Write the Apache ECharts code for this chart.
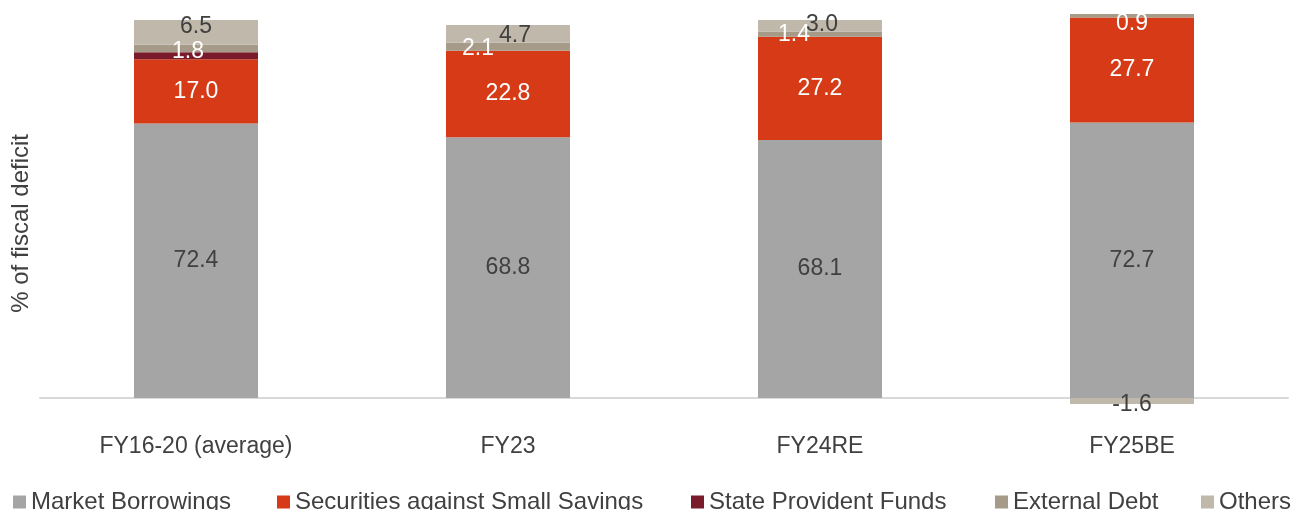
<!DOCTYPE html>
<html>
<head>
<meta charset="utf-8">
<script src="https://cdn.jsdelivr.net/npm/echarts@6/dist/echarts.min.js"></script>
<style>
  html, body { margin: 0; padding: 0; background: #fff; }
  #chart { width: 1291px; height: 510px; }
</style>
</head>
<body>
<div id="chart"></div>
<script>
// data
const categories = ['FY16-20 (average)', 'FY23', 'FY24RE', 'FY25BE']
const marketBorrowings = [72.4, 68.8, 68.1, 72.7]
const smallSavings = [17.0, 22.8, 27.2, 27.7]
const stateProvident = [1.8, 0, 0, 0]
const externalDebt = [2.0, 2.1, 1.4, 0.9]
const others = [6.5, 4.7, 3.0, -1.6]

const FONT = 'Liberation Sans, Arial, sans-serif'
const DARK = '#404040'

// label nudges for the thin segments (Excel put them a bit off-centre)
const labelOffsets = {
  'State Provident Funds': [[-8, -4], null, null, null],
  'External Debt': [null, [-30, 2], [-26, 1], [0, 8]],
  'Others': [[0, -6], [7, 2], [2, -1], [0, 4]]
}
const hideLabel = {
  'State Provident Funds': [false, true, true, true],
  'External Debt': [true, false, false, false]
}

function makeSeries(name, values, color, labelColor) {
  return {
    name: name,
    type: 'bar',
    stack: 'total',
    barWidth: 124,
    itemStyle: { color: color },
    label: {
      show: true,
      position: 'inside',
      color: labelColor,
      fontFamily: FONT,
      fontSize: 23,
      formatter: p => p.value.toFixed(1)
    },
    data: values.map((v, i) => {
      const item = { value: v }
      const offs = labelOffsets[name] && labelOffsets[name][i]
      const hidden = hideLabel[name] && hideLabel[name][i]
      if (hidden) item.label = { show: false }
      else if (offs) item.label = { offset: offs }
      return item
    })
  }
}

const legendItems = [
  { name: 'Market Borrowings', left: 8 },
  { name: 'Securities against Small Savings', left: 272 },
  { name: 'State Provident Funds', left: 686 },
  { name: 'External Debt', left: 990 },
  { name: 'Others', left: 1196 }
]

const chart = echarts.init(document.getElementById('chart'))
chart.setOption({
  animation: false,
  grid: { left: 40, right: 3, top: 0, height: 417 },
  legend: legendItems.map(l => ({
    data: [l.name],
    left: l.left,
    top: 485,
    icon: 'rect',
    itemWidth: 13,
    itemHeight: 13,
    textStyle: { color: DARK, fontFamily: FONT, fontSize: 24 }
  })),
  graphic: [{
    type: 'text',
    left: 9,
    top: 134,
    rotation: Math.PI / 2,
    style: {
      text: '% of fiscal deficit',
      fill: DARK,
      font: '24px ' + FONT
    }
  }],
  xAxis: {
    type: 'category',
    data: categories,
    axisLine: { onZero: true, lineStyle: { color: '#d9d9d9', width: 2 } },
    axisTick: { show: false },
    axisLabel: { color: DARK, fontFamily: FONT, fontSize: 23, margin: 18 }
  },
  yAxis: {
    type: 'value',
    min: -5,
    max: 105,
    show: false
  },
  series: [
    makeSeries('Market Borrowings', marketBorrowings, '#a5a5a5', DARK),
    makeSeries('Securities against Small Savings', smallSavings, '#d63a16', '#ffffff'),
    makeSeries('State Provident Funds', stateProvident, '#7a1b2b', '#ffffff'),
    makeSeries('External Debt', externalDebt, '#a69a88', '#ffffff'),
    makeSeries('Others', others, '#c0b8aa', DARK)
  ]
})
</script>
</body>
</html>
